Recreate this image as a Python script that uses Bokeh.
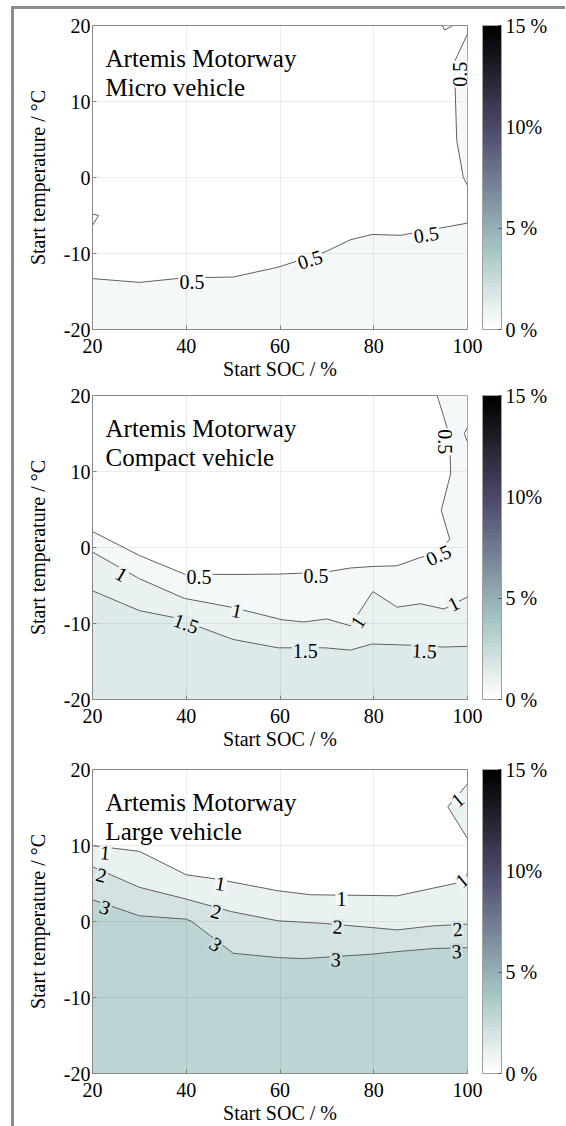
import numpy as np
from bokeh.plotting import figure
from bokeh.layouts import column
from bokeh.models import (ColorBar, LinearColorMapper, FixedTicker, Label, ColumnDataSource)
from bokeh.core.properties import value
from bokeh.embed import file_html
from bokeh.resources import INLINE

FONT = "Liberation Serif"

# ---------------- data ----------------
SOC_TICKS = [20, 40, 60, 80, 100]
TEMP_TICKS = [-20, -10, 0, 10, 20]
TEMP_TICK_LABELS = ["-20", "-10", "0", "10", "20"]
CBAR_TICKS = [0, 5, 10, 15]
CBAR_LABELS = ["0 %", "5 %", "10%", "15 %"]
CLIM = (0, 15)

# Panel 1: Micro vehicle  (contour level 0.5)
micro_title = ["Artemis Motorway", "Micro vehicle"]
micro_levels = [0.5]
micro_a_soc = [20, 30, 39.6, 50, 59.6, 69.6, 75, 79.6, 85.8, 100]
micro_a_t = [-13.3, -13.8, -13.2, -13.1, -11.8, -9.8, -8.2, -7.5, -7.6, -6.0]
micro_b_soc = [100, 97.2, 97.7, 99.1, 100]
micro_b_t = [18.9, 15.2, 4.9, 0.0, -1.05]
micro_c_soc = [94.6, 95.1, 96.9]
micro_c_t = [20, 19.4, 20]
micro_d_soc = [20, 21.3, 20]
micro_d_t = [-4.8, -5.0, -6.3]
micro_lab_soc = [41.2, 66.4, 91.2, 98.5]
micro_lab_t = [-13.8, -10.8, -7.5, 13.6]
micro_lab_lev = [0.5, 0.5, 0.5, 0.5]
micro_lab_ang = [0, 18, 8, 90]

# Panel 2: Compact vehicle (levels 0.5, 1, 1.5)
compact_title = ["Artemis Motorway", "Compact vehicle"]
compact_levels = [0.5, 1, 1.5]
compact_05_soc = [20, 30, 39.6, 50, 59.6, 69.6, 75, 79.6, 85, 90, 93.8, 96.2, 94.4, 96.4, 96.2, 95, 93.5]
compact_05_t = [2.1, -1.05, -3.5, -3.55, -3.5, -3.25, -2.7, -2.5, -2.4, -1.3, -0.75, 1.1, 4.9, 9.7, 14.5, 17.1, 20]
compact_notch_soc = [100, 99.3, 100]
compact_notch_t = [15.8, 15.0, 13.9]
compact_1_soc = [20, 30, 39.6, 50, 60.4, 65, 70, 75, 79.8, 85, 90, 95, 100]
compact_1_t = [-0.6, -4.1, -6.7, -7.9, -9.5, -9.8, -9.4, -10.3, -5.8, -7.85, -7.4, -8.1, -6.5]
compact_15_soc = [20, 30, 37.3, 50, 59.6, 69.6, 75, 79.6, 85, 90, 95, 100]
compact_15_t = [-5.7, -8.3, -9.2, -12.1, -13.2, -13.2, -13.5, -12.7, -12.8, -12.9, -13.1, -13.0]
compact_lab_soc = [42.7, 67.7, 93.8, 95.2, 26.2, 50.8, 76.6, 97.0, 40.0, 65.4, 90.8]
compact_lab_t = [-3.9, -3.7, -1.0, 13.9, -3.5, -8.3, -9.8, -7.4, -10.0, -13.6, -13.6]
compact_lab_lev = [0.5, 0.5, 0.5, 0.5, 1, 1, 1, 1, 1.5, 1.5, 1.5]
compact_lab_ang = [0, 0, 25, -90, -30, -12, 57, 27, -20, 0, -3]

# Panel 3: Large vehicle (levels 1, 2, 3)
large_title = ["Artemis Motorway", "Large vehicle"]
large_levels = [1, 2, 3]
large_1_soc = [20, 30, 40, 46.5, 59.6, 66.5, 85, 97.7, 100]
large_1_t = [9.98, 9.23, 6.15, 5.58, 4.04, 3.52, 3.38, 5.05, 6.24]
large_1b_soc = [100, 95.8, 100]
large_1b_t = [18.1, 15.1, 10.9]
large_2_soc = [20, 30, 40, 49.6, 59.6, 69.6, 79.6, 85, 92.7, 100]
large_2_t = [7.2, 4.5, 2.95, 1.3, 0.09, -0.26, -0.8, -1.1, -0.57, -0.35]
large_3_soc = [20, 30, 40, 41.2, 50, 59.6, 65, 79.6, 85, 92.7, 100]
large_3_t = [2.86, 0.75, 0.31, 0.0, -4.18, -4.75, -4.88, -4.3, -3.96, -3.56, -3.43]
large_lab_soc = [22.7, 47.3, 73.1, 98.8, 97.9, 21.9, 46.4, 72.3, 97.9, 22.7, 46.3, 71.9, 97.7]
large_lab_t = [9.1, 5.0, 3.0, 5.4, 16.0, 6.1, 1.3, -0.7, -1.0, 1.85, -3.0, -5.0, -3.9]
large_lab_lev = [1, 1, 1, 1, 1, 2, 2, 2, 2, 3, 3, 3, 3]
large_lab_ang = [-5, -10, 0, 40, 40, -15, -15, -3, 5, -20, -35, -3, 3]


# ---------------- colormap (MATLAB-like "bone", reversed) ----------------
def bone_rgb(v):
    r = np.interp(v, [0, 0.746032, 1], [0, 0.652778, 1])
    g = np.interp(v, [0, 0.365079, 0.746032, 1], [0, 0.319444, 0.777778, 1])
    b = np.interp(v, [0, 0.365079, 1], [0, 0.444444, 1])
    return (int(round(r * 255)), int(round(g * 255)), int(round(b * 255)))


def hexc(rgb):
    return "#%02x%02x%02x" % tuple(rgb)


N = 64
PALETTE_RGB = [bone_rgb(1 - i / (N - 1)) for i in range(N)]
PALETTE = [hexc(c) for c in PALETTE_RGB]


def level_rgb(level):
    if level is None:
        return (255, 255, 255)
    idx = int((level - CLIM[0]) / (CLIM[1] - CLIM[0]) * N)
    return PALETTE_RGB[min(max(idx, 0), N - 1)]


def level_color(level):
    return hexc(level_rgb(level))


def label_bg(level, levels):
    # mix of the two bands on either side of the labelled contour
    i = levels.index(level)
    lo = level_rgb(levels[i - 1] if i > 0 else None)
    hi = level_rgb(level)
    return hexc([int(round((a + b) / 2)) for a, b in zip(lo, hi)])


LINE_COLOR = "#606060"
FRAME_H = 304


def make_panel(title, levels, regions, lines, labels, top_border, bottom_border):
    p = figure(frame_width=375, frame_height=FRAME_H, x_range=(20, 100), y_range=(-20, 20),
               output_backend="svg", toolbar_location=None,
               min_border_left=78, min_border_right=10,
               min_border_top=top_border, min_border_bottom=bottom_border)
    p.background_fill_color = "white"
    p.border_fill_color = "white"
    p.outline_line_color = "#8a8a8a"
    p.outline_line_width = 1

    # filled contour regions
    for xs, ys, lev in regions:
        p.patch(xs, ys, fill_color=level_color(lev), line_color=None)
    # contour lines
    for xs, ys in lines:
        p.line(xs, ys, line_color=LINE_COLOR, line_width=1)
    # inline labels (line is interrupted under each label)
    lx, ly, llev, la = labels
    src = ColumnDataSource(dict(
        x=lx, y=ly,
        text=[("%g" % v) for v in llev],
        angle=[np.deg2rad(a) for a in la],
        bg=[label_bg(v, levels) for v in llev],
    ))
    p.text(x="x", y="y", text="text", angle="angle", source=src,
           text_align="center", text_baseline="middle",
           background_fill_color="bg", padding=1,
           text_font=value(FONT), text_font_size="20px", text_color="black")

    # axes
    for ax in (p.xaxis[0], p.yaxis[0]):
        ax.major_label_text_font = FONT
        ax.major_label_text_font_size = "20px"
        ax.axis_label_text_font = FONT
        ax.axis_label_text_font_size = "20px"
        ax.axis_label_text_font_style = "normal"
        ax.axis_line_color = "#8a8a8a"
        ax.major_tick_line_color = "#8a8a8a"
        ax.major_tick_in = 4
        ax.major_tick_out = 0
        ax.minor_tick_line_color = None
        ax.major_label_text_color = "black"
        ax.axis_label_text_color = "black"
    p.xaxis.ticker = FixedTicker(ticks=SOC_TICKS)
    p.yaxis.ticker = FixedTicker(ticks=TEMP_TICKS)
    p.yaxis.major_label_overrides = {t: s for t, s in zip(TEMP_TICKS, TEMP_TICK_LABELS)}
    p.xaxis.axis_label = "Start SOC / %"
    p.yaxis.axis_label = "Start temperature / \u00b0C"
    p.xaxis.major_label_standoff = 9
    p.xaxis.axis_label_standoff = 2
    p.yaxis.major_label_standoff = 2
    p.yaxis.axis_label_standoff = 12

    p.grid.grid_line_color = "black"
    p.grid.grid_line_alpha = 0.07
    p.grid.level = "guide"
    p.xgrid.ticker = FixedTicker(ticks=SOC_TICKS)
    p.ygrid.ticker = FixedTicker(ticks=TEMP_TICKS)

    # colour bar
    mapper = LinearColorMapper(palette=PALETTE, low=CLIM[0], high=CLIM[1])
    cb = ColorBar(color_mapper=mapper, ticker=FixedTicker(ticks=CBAR_TICKS),
                  major_label_overrides={t: s for t, s in zip(CBAR_TICKS, CBAR_LABELS)},
                  width=19, height=FRAME_H, padding=15, margin=0, label_standoff=4,
                  location="center_right",
                  major_label_text_font=FONT, major_label_text_font_size="20px",
                  major_label_text_color="black",
                  bar_line_color="#a0a0a0", major_tick_line_color="#555555",
                  major_tick_in=3, minor_tick_line_color=None,
                  border_line_color=None, background_fill_alpha=0)
    p.add_layout(cb, "right")

    # title text
    for i, t in enumerate(title):
        p.add_layout(Label(x=13, y=FRAME_H - 33 - 29 * i, x_units="screen", y_units="screen",
                           text=t, text_font=FONT, text_font_size="25px",
                           text_baseline="alphabetic", text_align="left",
                           text_color="black"))
    return p


B = [(100, -20), (20, -20)]


def close(xs, ys, extra):
    return list(xs) + [e[0] for e in extra], list(ys) + [e[1] for e in extra]


# panel 1
r1 = [
    (*close(micro_a_soc, micro_a_t, B), 0.5),
    (micro_b_soc, micro_b_t, 0.5),
    (micro_c_soc, micro_c_t, 0.5),
    (micro_d_soc, micro_d_t, 0.5),
]
l1 = [(micro_a_soc, micro_a_t), (micro_b_soc, micro_b_t), (micro_c_soc, micro_c_t),
      (micro_d_soc, micro_d_t)]
p1 = make_panel(micro_title, micro_levels, r1, l1,
                (micro_lab_soc, micro_lab_t, micro_lab_lev, micro_lab_ang), 16, 54)

# panel 2
r2 = [
    (*close(compact_05_soc, compact_05_t, [(100, 20)] + B), 0.5),
    (compact_notch_soc, compact_notch_t, None),
    (*close(compact_1_soc, compact_1_t, B), 1.0),
    (*close(compact_15_soc, compact_15_t, B), 1.5),
]
l2 = [(compact_05_soc, compact_05_t), (compact_notch_soc, compact_notch_t),
      (compact_1_soc, compact_1_t), (compact_15_soc, compact_15_t)]
p2 = make_panel(compact_title, compact_levels, r2, l2,
                (compact_lab_soc, compact_lab_t, compact_lab_lev, compact_lab_ang), 12, 55)

# panel 3
r3 = [
    (*close(large_1_soc, large_1_t, B), 1.0),
    (large_1b_soc, large_1b_t, 1.0),
    (*close(large_2_soc, large_2_t, B), 2.0),
    (*close(large_3_soc, large_3_t, B), 3.0),
]
l3 = [(large_1_soc, large_1_t), (large_1b_soc, large_1b_t),
      (large_2_soc, large_2_t), (large_3_soc, large_3_t)]
p3 = make_panel(large_title, large_levels, r3, l3,
                (large_lab_soc, large_lab_t, large_lab_lev, large_lab_ang), 15, 44)

layout = column(p1, p2, p3, spacing=0,
                styles={"border-left": "3px solid #8c8c8c", "border-top": "3px solid #8c8c8c",
                        "margin-left": "11px", "margin-top": "6px"})

open("out.html", "w").write(file_html(layout, INLINE))
